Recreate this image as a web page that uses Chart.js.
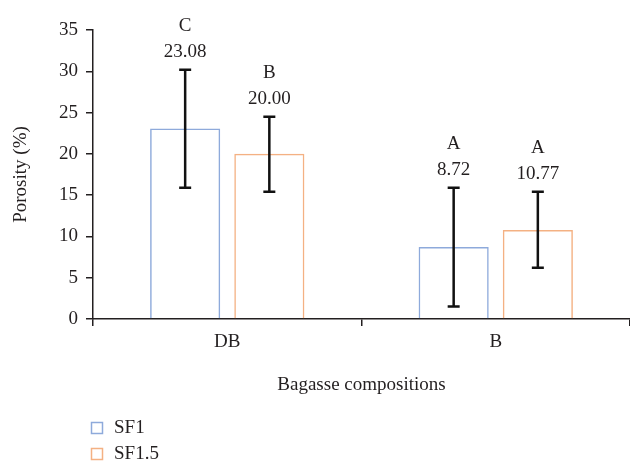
<!DOCTYPE html>
<html>
<head>
<meta charset="utf-8">
<script src="https://cdn.jsdelivr.net/npm/chart.js@4.4.0/dist/chart.umd.min.js"></script>
<style>
  html, body { margin: 0; padding: 0; background: #fff; }
</style>
</head>
<body>
<canvas id="myChart" width="630" height="461"></canvas>
<script>
// data
const categories = ['DB', 'B'];
const seriesNames = ['SF1', 'SF1.5'];
const sf1 = [23.08, 8.72];
const sf15 = [20.00, 10.77];
const sf1Low = [15.9, 1.5];
const sf1High = [30.2, 15.9];
const sf15Low = [15.4, 6.2];
const sf15High = [24.5, 15.4];
const sf1Letters = ['C', 'A'];
const sf15Letters = ['B', 'A'];
const yTicks = [0, 5, 10, 15, 20, 25, 30, 35];

const textColor = '#231f20';
const serif = "'Liberation Serif', 'Times New Roman', serif";
const fontSize = 19;

const lows = [sf1Low, sf15Low];
const highs = [sf1High, sf15High];
const letters = [sf1Letters, sf15Letters];

// error bars + value labels + letters
const errorBars = {
    id: 'errorBars',
    afterDatasetsDraw(chart) {
        const ctx = chart.ctx;
        const y = chart.scales.y;
        ctx.save();
        chart.data.datasets.forEach(function (ds, i) {
            const meta = chart.getDatasetMeta(i);
            meta.data.forEach(function (bar, j) {
                const top = y.getPixelForValue(highs[i][j]);
                const bottom = y.getPixelForValue(lows[i][j]);
                ctx.strokeStyle = '#111';
                ctx.lineWidth = 2.5;
                ctx.beginPath();
                ctx.moveTo(bar.x, top);
                ctx.lineTo(bar.x, bottom);
                ctx.moveTo(bar.x - 6, top);
                ctx.lineTo(bar.x + 6, top);
                ctx.moveTo(bar.x - 6, bottom);
                ctx.lineTo(bar.x + 6, bottom);
                ctx.stroke();

                ctx.fillStyle = textColor;
                ctx.font = fontSize + 'px ' + serif;
                ctx.textAlign = 'center';
                ctx.textBaseline = 'middle';
                ctx.fillText(ds.data[j].toFixed(2), bar.x, top - 18);
                ctx.fillText(letters[i][j], bar.x, top - 44);
            });
        });
        ctx.restore();
    }
};

// vertical legend at bottom left
const sideLegend = {
    id: 'sideLegend',
    afterDraw(chart) {
        const ctx = chart.ctx;
        ctx.save();
        ctx.font = fontSize + 'px ' + serif;
        ctx.textBaseline = 'middle';
        ctx.textAlign = 'left';
        chart.data.datasets.forEach(function (ds, i) {
            const cy = 428 + i * 26;
            ctx.strokeStyle = ds.borderColor;
            ctx.lineWidth = 1.5;
            ctx.strokeRect(91.5, cy - 5.5, 11, 11);
            ctx.fillStyle = textColor;
            ctx.fillText(ds.label, 114, cy);
        });
        ctx.restore();
    }
};

const ctx = document.getElementById('myChart').getContext('2d');
const myChart = new Chart(ctx, {
    type: 'bar',
    data: {
        labels: categories,
        datasets: [{
            label: seriesNames[0],
            data: sf1,
            backgroundColor: 'rgba(255,255,255,0)',
            borderColor: '#8eaadb',
            borderWidth: 1.5
        }, {
            label: seriesNames[1],
            data: sf15,
            backgroundColor: 'rgba(255,255,255,0)',
            borderColor: '#f4b183',
            borderWidth: 1.5
        }]
    },
    options: {
        responsive: false,
        animation: false,
        devicePixelRatio: 1,
        layout: { padding: { top: 30, right: 0, left: 0, bottom: 65 } },
        datasets: { bar: { categoryPercentage: 0.627, barPercentage: 0.833 } },
        plugins: {
            legend: { display: false },
            tooltip: { enabled: false }
        },
        scales: {
            x: {
                grid: { display: true, drawOnChartArea: false, drawTicks: true, tickLength: 7, color: textColor, lineWidth: 1.5 },
                border: { color: textColor, width: 1.5 },
                ticks: { color: textColor, font: { family: serif, size: fontSize }, padding: 5 },
                title: { display: true, text: 'Bagasse compositions', color: textColor, font: { family: serif, size: fontSize }, padding: { top: 0, bottom: 0 } },
                afterFit: function (scale) { scale.height = 77; }
            },
            y: {
                min: 0,
                max: 35,
                afterBuildTicks: function (scale) {
                    scale.ticks = yTicks.map(function (v) { return { value: v }; });
                },
                grid: { display: true, drawOnChartArea: false, drawTicks: true, tickLength: 7, color: textColor, lineWidth: 1.5 },
                border: { color: textColor, width: 1.5 },
                ticks: { color: textColor, font: { family: serif, size: fontSize }, padding: 8 },
                title: { display: true, text: 'Porosity (%)', color: textColor, font: { family: serif, size: fontSize }, padding: { top: 10, bottom: 0 } },
                afterFit: function (scale) { scale.width = 93; }
            }
        }
    },
    plugins: [errorBars, sideLegend]
});
</script>
</body>
</html>
